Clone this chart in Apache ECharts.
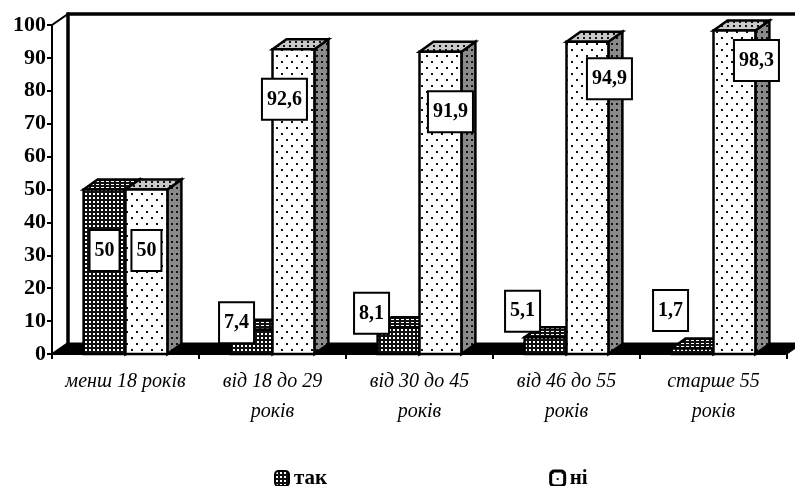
<!DOCTYPE html>
<html>
<head>
<meta charset="utf-8">
<script src="https://cdn.jsdelivr.net/npm/echarts@6/dist/echarts.min.js"></script>
<style>
  html, body { margin: 0; padding: 0; background: #fff; }
  #chart_1 { width: 795px; height: 486px; }
</style>
</head>
<body>
<div id="chart_1"></div>
<script>
// дані
var categories = ['менш 18 років', 'від 18 до 29\nроків', 'від 30 до 45\nроків', 'від 46 до 55\nроків', 'старше 55\nроків'];
var takValues = [50, 7.4, 8.1, 5.1, 1.7];
var niValues = [50, 92.6, 91.9, 94.9, 98.3];
var yTicks = [0, 10, 20, 30, 40, 50, 60, 70, 80, 90, 100];

// зсув підписів відносно верху стовпця (стиль, не дані)
var takLabelShift = [[0, 61], [-15, -7], [-27, -14], [-23, -26], [-22, -38]];
var niLabelShift = [[0, 61], [-9, 50], [10, 60], [22, 37], [22, 30]];

var SERIF = '"Times New Roman", "Liberation Serif", serif';
var DX = 14, DY = -10;      // глибина стовпців
var WX = 16, WY = -11;      // глибина стін
var BAR_RATIO = 0.285;

function pattern(w, h, bg, fg, dots) {
    var c = document.createElement('canvas');
    c.width = w; c.height = h;
    var ctx = c.getContext('2d');
    ctx.fillStyle = bg;
    ctx.fillRect(0, 0, w, h);
    ctx.fillStyle = fg;
    dots.forEach(function (d) { ctx.fillRect(d[0], d[1], d[2], d[3]); });
    return { image: c, repeat: 'repeat' };
}

var takFront = pattern(4, 4, '#111', '#fff', [[1, 1, 2, 2]]);
var takTop = pattern(5, 3, '#111', '#fff', [[1, 1, 3, 1]]);
var niFront = pattern(10, 12, '#fff', '#111', [[1, 1, 2, 2], [6, 7, 2, 2]]);
var niSide = pattern(5, 6, '#8a8a8a', '#111', [[1, 1, 2, 2]]);
var niTop = pattern(6, 4, '#c8c8c8', '#111', [[1, 1, 2, 2]]);

var faces = [
    { front: takFront, top: takTop, side: niSide },
    { front: niFront, top: niTop, side: niSide }
];

function fmt(v) {
    return String(v).replace('.', ',');
}

function barRenderer(idx, shifts) {
    return function (params, api) {
        var ci = api.value(0), v = api.value(1);
        var base = api.coord([ci, 0]);
        var top = api.coord([ci, v]);
        var bw = api.size([1, 0])[0] * BAR_RATIO;
        var x0 = idx === 0 ? base[0] - bw : base[0];
        var x1 = x0 + bw;
        var yT = top[1], yB = base[1];
        var f = faces[idx];
        var st = { stroke: '#000', lineWidth: 2.5, lineJoin: 'miter' };
        var sh = shifts[params.dataIndex];
        return {
            type: 'group',
            children: [
                { type: 'polygon', shape: { points: [[x1, yT], [x1 + DX, yT + DY], [x1 + DX, yB + DY], [x1, yB]] },
                  style: Object.assign({ fill: f.side }, st) },
                { type: 'polygon', shape: { points: [[x0, yT], [x0 + DX, yT + DY], [x1 + DX, yT + DY], [x1, yT]] },
                  style: Object.assign({ fill: f.top }, st) },
                { type: 'rect', shape: { x: x0, y: yT, width: bw, height: yB - yT },
                  style: Object.assign({ fill: f.front }, st) },
                { type: 'text', z2: 100, x: (x0 + x1) / 2 + sh[0], y: yT + sh[1],
                  style: {
                      text: fmt(v), fill: '#000', font: 'bold 20px ' + SERIF,
                      align: 'center', verticalAlign: 'middle',
                      backgroundColor: '#fff', borderColor: '#000', borderWidth: 2,
                      padding: [10, 4, 9, 4]
                  } }
            ]
        };
    };
}

function wallRenderer(params, api) {
    var cs = params.coordSys;
    var x = cs.x, y = cs.y, w = cs.width, b = cs.y + cs.height;
    return {
        type: 'group',
        children: [
            { type: 'polygon', shape: { points: [[x, y], [x + WX, y + WY], [x + WX, b + WY], [x, b]] },
              style: { fill: '#fff', stroke: '#000', lineWidth: 2 } },
            { type: 'polyline', shape: { points: [[x + WX, b + WY], [x + WX, y + WY], [x + w + WX + 20, y + WY]] },
              style: { fill: null, stroke: '#000', lineWidth: 3.5 } },
            { type: 'polygon', shape: { points: [[x, b], [x + WX, b + WY], [x + w + WX, b + WY], [x + w, b]] },
              style: { fill: '#000', stroke: '#000', lineWidth: 1 } }
        ]
    };
}

var myChart = echarts.init(document.getElementById('chart_1'));
myChart.setOption({
    animation: false,
    grid: { left: 52, right: 8, top: 25, bottom: 132 },
    legend: {
        left: 269, top: 463,
        itemWidth: 14, itemHeight: 15, itemGap: 222,
        icon: 'roundRect',
        textStyle: { color: '#000', fontFamily: SERIF, fontWeight: 'bold', fontSize: 21 },
        data: [
            { name: 'так', itemStyle: { color: takFront, borderColor: '#000', borderWidth: 2 } },
            { name: 'ні', itemStyle: { color: niFront, borderColor: '#000', borderWidth: 3 } }
        ]
    },
    xAxis: {
        type: 'category',
        data: categories,
        axisLine: { lineStyle: { color: '#000', width: 2 } },
        axisTick: { show: true, length: 5, lineStyle: { color: '#000', width: 2 } },
        axisLabel: {
            interval: 0, margin: 13, color: '#000',
            fontFamily: SERIF, fontStyle: 'italic', fontSize: 20, lineHeight: 30
        }
    },
    yAxis: {
        type: 'value',
        min: yTicks[0], max: yTicks[yTicks.length - 1], interval: 10,
        splitLine: { show: false },
        axisLine: { show: true, lineStyle: { color: '#000', width: 2 } },
        axisTick: { show: true, length: 5, lineStyle: { color: '#000', width: 2 } },
        axisLabel: { margin: 6, color: '#000', fontFamily: SERIF, fontWeight: 'bold', fontSize: 22 }
    },
    series: [
        { type: 'custom', name: 'walls', z: 1, clip: false, silent: true,
          renderItem: wallRenderer, data: [[0, 0]] },
        { type: 'custom', name: 'так', z: 2, clip: false,
          itemStyle: { color: takFront },
          renderItem: barRenderer(0, takLabelShift),
          data: takValues.map(function (v, i) { return [i, v]; }) },
        { type: 'custom', name: 'ні', z: 3, clip: false,
          itemStyle: { color: niFront },
          renderItem: barRenderer(1, niLabelShift),
          data: niValues.map(function (v, i) { return [i, v]; }) }
    ]
});
</script>
</body>
</html>
